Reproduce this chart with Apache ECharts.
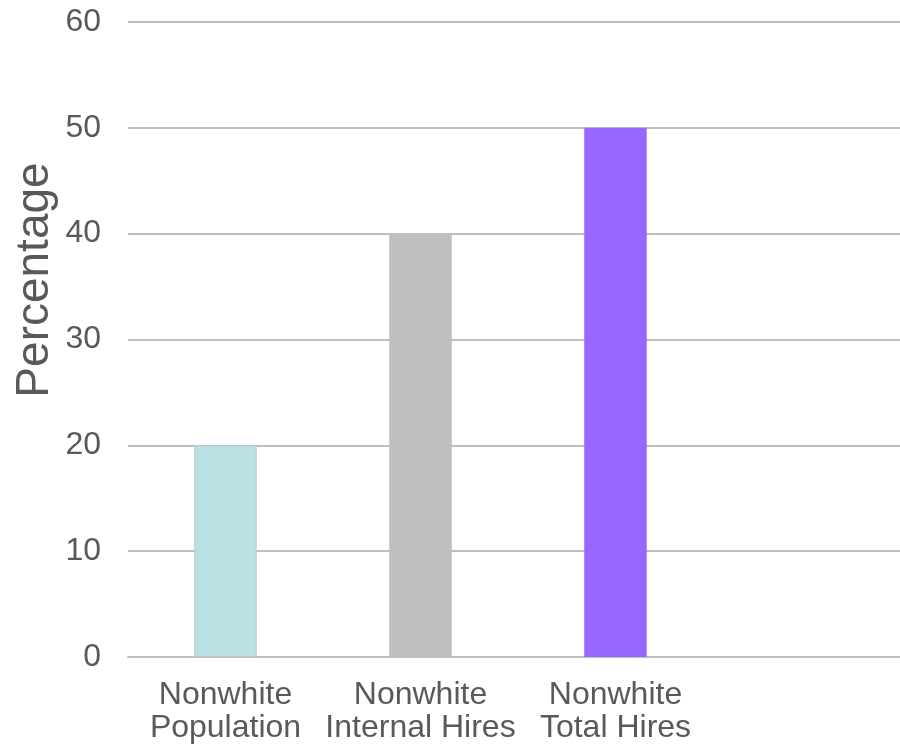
<!DOCTYPE html>
<html>
<head>
<meta charset="utf-8">
<script src="https://cdn.jsdelivr.net/npm/echarts@6/dist/echarts.min.js"></script>
<style>
html,body{margin:0;padding:0;background:#fff;overflow:hidden;width:900px;height:747px;}
#chart{width:910px;height:747px;}
</style>
</head>
<body>
<div id="chart"></div>
<script>
const categories = ["Nonwhite\nPopulation", "Nonwhite\nInternal Hires", "Nonwhite\nTotal Hires", ""];
const values = [20, 40, 50, null];
const barColors = ["#BBE0E3", "#BFBFBF", "#9966FF", "#FFFFFF"];
const yTicks = { min: 0, max: 60, interval: 10 };
const yAxisTitle = "Percentage";

const chart = echarts.init(document.getElementById('chart'), null, { renderer: 'canvas' });
chart.setOption({
  animation: false,
  backgroundColor: '#ffffff',
  grid: { left: 128, top: 22, bottom: 90, width: 780 },
  xAxis: {
    type: 'category',
    data: categories,
    axisLine: { show: true, lineStyle: { color: '#BFBFBF', width: 2 } },
    axisTick: { show: false },
    axisLabel: {
      interval: 0,
      color: '#595959',
      fontFamily: 'Liberation Sans, Arial, sans-serif',
      fontSize: 32,
      lineHeight: 33,
      margin: 22
    }
  },
  yAxis: {
    type: 'value',
    min: yTicks.min,
    max: yTicks.max,
    interval: yTicks.interval,
    axisLine: { show: false },
    axisTick: { show: false },
    splitLine: { lineStyle: { color: '#BFBFBF', width: 2 } },
    axisLabel: {
      color: '#595959',
      fontFamily: 'Liberation Sans, Arial, sans-serif',
      fontSize: 32,
      margin: 27
    }
  },
  graphic: [{
    type: 'text',
    x: 35,
    y: 280,
    rotation: Math.PI / 2,
    style: {
      text: yAxisTitle,
      fill: '#595959',
      font: '46px "Liberation Sans", Arial, sans-serif',
      textAlign: 'center',
      textVerticalAlign: 'middle'
    }
  }],
  series: [{
    type: 'bar',
    barWidth: '32%',
    data: values.map((v, i) => ({
      value: v,
      itemStyle: {
        color: barColors[i],
        borderColor: i === 0 ? '#B3CFD2' : barColors[i],
        borderWidth: 1
      }
    }))
  }]
});
</script>
</body>
</html>
